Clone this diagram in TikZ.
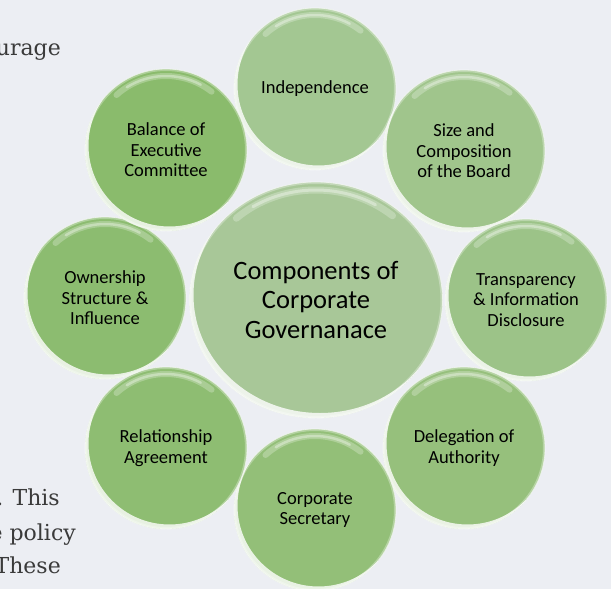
\documentclass[tikz,border=0pt]{standalone}
\usepackage{fontspec}
\setmainfont{Carlito}
\newfontfamily\bgserif{DejaVu Serif}
\usetikzlibrary{shapes.geometric,calc}
\definecolor{bgc}{HTML}{ECEEF3}
\definecolor{gA}{HTML}{A3C792}
\definecolor{gB}{HTML}{A0C58C}
\definecolor{gC}{HTML}{9CC388}
\definecolor{gD}{HTML}{96C07C}
\definecolor{gE}{HTML}{93BF78}
\definecolor{gF}{HTML}{8EBD72}
\definecolor{gG}{HTML}{8CBC70}
\definecolor{gH}{HTML}{8ABB6C}
\definecolor{gCenter}{HTML}{A8C798}
\definecolor{bgtxt}{HTML}{3A3A3A}
\begin{document}
\begin{tikzpicture}[x=1pt,y=-1pt,
  bgtext/.style={font=\bgserif\fontsize{22}{26}\selectfont, text=bgtxt, inner sep=0pt, anchor=base east},
  bubble/.style={circle, minimum size=162pt, inner sep=0pt, align=center,
    font=\fontsize{18.5}{20.5}\selectfont, text=black,
    draw=white, draw opacity=0.55, line width=0.8pt,
    path picture={
      \coordinate (pc) at (path picture bounding box.center);
      \fill[white, fill opacity=0.8, even odd rule] (pc) circle[radius=81pt] ($(pc)+(3.5pt,4.5pt)$) circle[radius=81pt];
      \draw[white, draw opacity=0.3, line width=2pt] (pc) circle[radius=80pt];
      \draw[white, draw opacity=0.25, line width=6pt, line cap=round] ($(pc)+(132:74pt)$) arc[start angle=132, end angle=52, radius=74pt];
      \draw[white, draw opacity=0.35, line width=2.5pt, line cap=round] ($(pc)+(122:74pt)$) arc[start angle=122, end angle=62, radius=74pt];
    }},
  hub/.style={ellipse, minimum width=253pt, minimum height=236pt, inner sep=0pt, align=center,
    font=\fontsize{26.5}{29.5}\selectfont, text=black,
    draw=white, draw opacity=0.55, line width=0.8pt,
    path picture={
      \coordinate (pc) at (path picture bounding box.center);
      \fill[white, fill opacity=0.8, even odd rule] (pc) ellipse[x radius=126.5pt, y radius=118pt] ($(pc)+(4pt,5pt)$) ellipse[x radius=126.5pt, y radius=118pt];
      \draw[white, draw opacity=0.3, line width=2pt] (pc) ellipse[x radius=125.5pt, y radius=117pt];
      \draw[white, draw opacity=0.25, line width=7pt, line cap=round] ($(pc)+(132:119pt and 110pt)$) arc[start angle=132, end angle=50, x radius=119pt, y radius=110pt];
      \draw[white, draw opacity=0.35, line width=3pt, line cap=round] ($(pc)+(122:119pt and 110pt)$) arc[start angle=122, end angle=60, x radius=119pt, y radius=110pt];
    }}]
\fill[bgc] (0,0) rectangle (611,589);
\useasboundingbox (0,0) rectangle (611,589);
\clip (0,0) rectangle (611,589);
% background paragraph fragments
\node[bgtext] (t1) at (61,55) {urage};
\node[bgtext] (t2) at (60,505) {. This};
\node[bgtext] (t3) at (76,540) {e policy};
\node[bgtext] (t4) at (61,573) {These};
% hub
\node[hub, fill=gCenter] (hubc) at (316,300) {Components of\\Corporate\\Governanace};
% outer bubbles
\node[bubble, fill=gA] (indep) at (315,89) {Independence};
\node[bubble, fill=gB] (size) at (464,151) {Size and\\Composition\\of the Board};
\node[bubble, fill=gC] (transp) at (526,300) {Transparency\\\& Information\\Disclosure};
\node[bubble, fill=gD] (deleg) at (464,448) {Delegation of\\Authority};
\node[bubble, fill=gE] (secr) at (315,510) {Corporate\\Secretary};
\node[bubble, fill=gF] (relat) at (166,448) {Relationship\\Agreement};
\node[bubble, fill=gG] (owner) at (105,298) {Ownership\\Structure \&\\Influence};
\node[bubble, fill=gH] (balance) at (166,150) {Balance of\\Executive\\Committee};
\end{tikzpicture}
\end{document}
